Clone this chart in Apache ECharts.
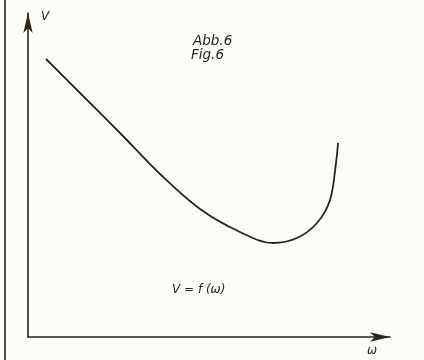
<!DOCTYPE html>
<html>
<head>
<meta charset="utf-8">
<script src="https://cdn.jsdelivr.net/npm/echarts@6/dist/echarts.min.js"></script>
<style>
  html, body { margin: 0; padding: 0; background: #fcfcf8; }
  #chart { width: 424px; height: 360px; }
</style>
</head>
<body>
<div id="chart"></div>
<script>
// V as a function of omega (abstract units)
const omega = [18, 52, 92, 132, 172, 212, 245, 269, 289, 302, 308, 310];
const V     = [278, 244, 204, 163, 128, 105, 94, 99, 114, 137, 174, 194];

const ink = '#2b2517';
const chart = echarts.init(document.getElementById('chart'));

chart.setOption({
  backgroundColor: '#fcfcf8',
  animation: false,
  grid: { left: 28, right: 34, top: 13, bottom: 23 },
  xAxis: {
    type: 'value', min: 0, max: 362,
    axisLine: { show: true, symbol: ['none', 'arrow'], symbolSize: [7, 20],
      lineStyle: { color: ink, width: 1.6 } },
    axisTick: { show: false }, axisLabel: { show: false }, splitLine: { show: false }
  },
  yAxis: {
    type: 'value', min: 0, max: 324,
    axisLine: { show: true, symbol: ['none', 'arrow'], symbolSize: [7, 20],
      lineStyle: { color: ink, width: 1.6 } },
    axisTick: { show: false }, axisLabel: { show: false }, splitLine: { show: false }
  },
  series: [{
    type: 'line',
    data: omega.map((w, i) => [w, V[i]]),
    smooth: 0.35,
    showSymbol: false,
    lineStyle: { color: ink, width: 1.8 }
  }],
  graphic: [
    { type: 'line', shape: { x1: 5, y1: 0, x2: 5, y2: 360 }, style: { stroke: ink, lineWidth: 1.6 } },
    { type: 'text', left: 41, top: 11, style: { text: 'V', fill: ink, font: 'italic 12px "DejaVu Sans"' } },
    { type: 'text', left: 367, top: 345, style: { text: 'ω', fill: ink, font: 'italic 12px "DejaVu Sans"' } },
    { type: 'text', left: 193, top: 34, style: { text: 'Abb.6', fill: ink, font: 'italic 13.5px "DejaVu Sans"' } },
    { type: 'text', left: 191, top: 48, style: { text: 'Fig.6', fill: ink, font: 'italic 13.5px "DejaVu Sans"' } },
    { type: 'text', left: 172, top: 284, style: { text: 'V = f (ω)', fill: ink, font: 'italic 12px "DejaVu Sans"' } }
  ]
});
</script>
</body>
</html>
